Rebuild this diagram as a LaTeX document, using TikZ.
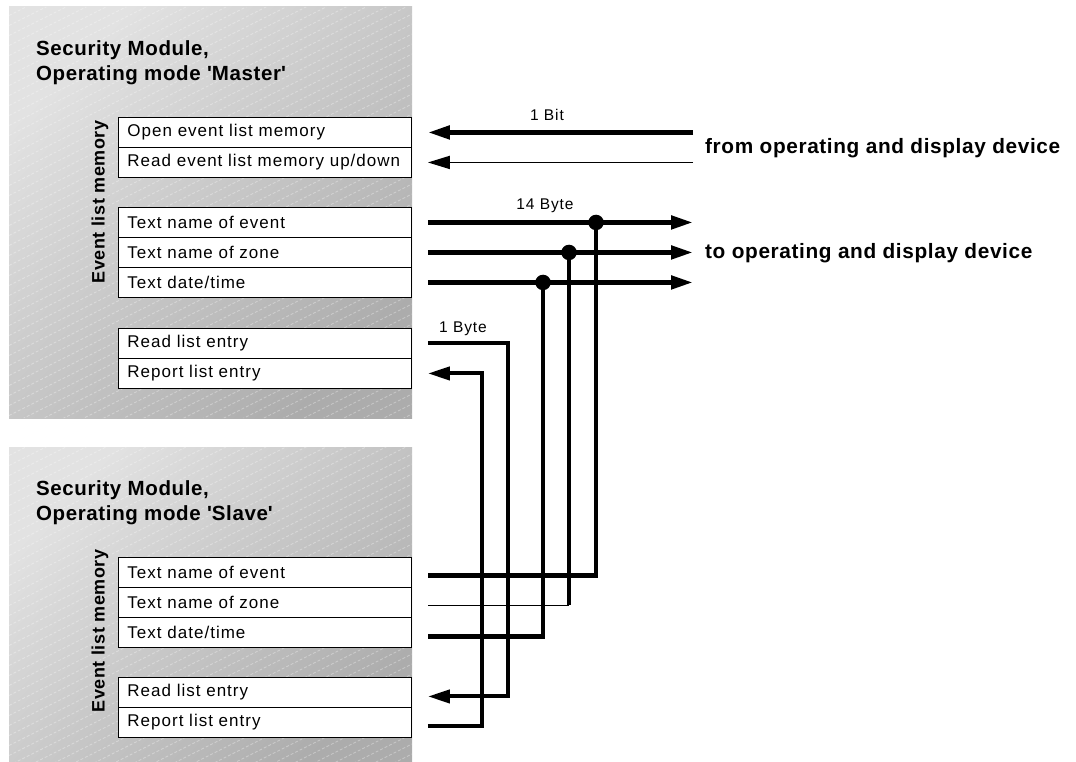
\documentclass[tikz,border=0pt]{standalone}
\usepackage{fontspec}
\setmainfont{Liberation Sans}
\newfontfamily\boxfont[LetterSpace=6]{Liberation Sans}
\newfontfamily\titlefont[LetterSpace=3]{Liberation Sans}
\usetikzlibrary{arrows.meta,calc}
\definecolor{panellight}{RGB}{226,226,226}
\definecolor{paneldark}{RGB}{172,172,172}
\tikzset{
  panel/.style={top color=panellight, bottom color=paneldark, shading angle=45, draw=none},
  hatch/.style={white, opacity=0.35, line width=0.7pt, dash pattern=on 3pt off 2pt},
  rowbox/.style={draw=black, line width=0.9pt, fill=white, anchor=north west,
    minimum height=30pt, text width=275pt, inner xsep=9pt, inner ysep=0pt, align=left,
    font=\boxfont\fontsize{17}{20}\selectfont},
  titletext/.style={anchor=west, align=left, inner sep=0pt, font=\titlefont\bfseries\fontsize{20.5}{25}\selectfont},
  sidelabel/.style={rotate=90, inner sep=0pt, font=\titlefont\bfseries\fontsize{18}{20}\selectfont},
  rightlabel/.style={anchor=west, inner sep=0pt, font=\titlefont\bfseries\fontsize{20.8}{24}\selectfont},
  smalllab/.style={inner sep=0pt, font=\boxfont\fontsize{15.5}{18}\selectfont},
  thickline/.style={line width=4.8pt, line join=miter},
  medline/.style={line width=4pt, line join=miter},
  thinline/.style={line width=1.8pt},
  tipL/.style={-{Triangle[length=22pt,width=13pt]}},
  junction/.style={circle, fill=black, inner sep=0pt, minimum size=15.5pt}
}
\begin{document}
\begin{tikzpicture}[x=1pt,y=-1pt]
\useasboundingbox (0,0) rectangle (1076,762);
% panels
\shade[panel] (9,7) rectangle (412,418);
\shade[panel] (9,447) rectangle (412,762);
\begin{scope}
  \clip (9,7) rectangle (412,418) (9,447) rectangle (412,762);
  \foreach \k in {0,...,100} {
    \draw[hatch] (0,{\k*10}) -- (420,{\k*10-210});
  }
\end{scope}
% titles
\node[titletext] (tm) at (36,62.5) {Security Module,\\Operating mode \textquotesingle Master\textquotesingle};
\node[titletext] (ts) at (36,503) {Security Module,\\Operating mode \textquotesingle Slave\textquotesingle};
\node[sidelabel] (em) at (100,202) {Event list memory};
\node[sidelabel] (es) at (100,631) {Event list memory};
% master boxes
\node[rowbox] (m1) at (118,117) {Open event list memory};
\node[rowbox] (m2) at (118,147) {Read event list memory up/down};
\node[rowbox] (m3) at (118,207) {Text name of event};
\node[rowbox] (m4) at (118,237) {Text name of zone};
\node[rowbox] (m5) at (118,267) {Text date/time};
\node[rowbox] (m6) at (118,328) {Read list entry};
\node[rowbox] (m7) at (118,358) {Report list entry};
% slave boxes
\node[rowbox] (s1) at (118,557) {Text name of event};
\node[rowbox] (s2) at (118,587) {Text name of zone};
\node[rowbox] (s3) at (118,617) {Text date/time};
\node[rowbox] (s4) at (118,677) {Read list entry};
\node[rowbox] (s5) at (118,707) {Report list entry};
% connector end points
\coordinate (m1p) at ($(m1.east)+(16,0)$);
\coordinate (m2p) at ($(m2.east)+(16,0)$);
\coordinate (m3p) at ($(m3.east)+(16,0)$);
\coordinate (m4p) at ($(m4.east)+(16,0)$);
\coordinate (m5p) at ($(m5.east)+(16,0)$);
\coordinate (m6p) at ($(m6.east)+(16,0)$);
\coordinate (m7p) at ($(m7.east)+(16,0)$);
\coordinate (s1p) at ($(s1.east)+(16,3)$);
\coordinate (s2p) at ($(s2.east)+(16,3)$);
\coordinate (s3p) at ($(s3.east)+(16,4)$);
\coordinate (s4p) at ($(s4.east)+(16,4)$);
\coordinate (s5p) at ($(s5.east)+(16,4)$);
\coordinate (xr) at (693,0);
\coordinate (x1) at (596,0);
\coordinate (x2) at (569,0);
\coordinate (x3) at (543,0);
\coordinate (x4) at (508,0);
\coordinate (x5) at (482,0);
\coordinate (in1) at (m1p -| xr);
\coordinate (in2) at (m2p -| xr);
\coordinate (out1) at (m3p -| xr);
\coordinate (out2) at (m4p -| xr);
\coordinate (out3) at (m5p -| xr);
% right labels
\node[rightlabel] (from) at (705,148) {from operating and display device};
\node[rightlabel] (to) at (705,253) {to operating and display device};
% small labels
\node[smalllab] (lbit) at (547,115) {1 Bit};
\node[smalllab] (l14) at (545,206) {14 Byte};
\node[smalllab] (l1b) at (463,329) {1 Byte};
% incoming arrows
\draw[thickline, tipL] (in1) -- (m1p);
\draw[thinline, tipL] (in2) -- (m2p);
% outgoing arrows
\draw[thickline, tipL] (m3p) -- (out1);
\draw[thickline, tipL] (m4p) -- (out2);
\draw[thickline, tipL] (m5p) -- (out3);
% junctions
\coordinate (j1) at (m3p -| x1);
\coordinate (j2) at (m4p -| x2);
\coordinate (j3) at (m5p -| x3);
\draw[thickline] (j1) |- (s1p);
\draw[thickline] (j2) -- (j2 |- s2p);
\draw[thinline] (j2 |- s2p) -- (s2p);
\draw[thickline] (j3) |- (s3p);
% list entry handshakes
\draw[medline, tipL] (m6p) -| (x4 |- s4p) -- (s4p);
\draw[medline, tipL] (s5p) -| (x5 |- m7p) -- (m7p);
\node[junction] (d1) at (j1) {};
\node[junction] (d2) at (j2) {};
\node[junction] (d3) at (j3) {};
\end{tikzpicture}
\end{document}
